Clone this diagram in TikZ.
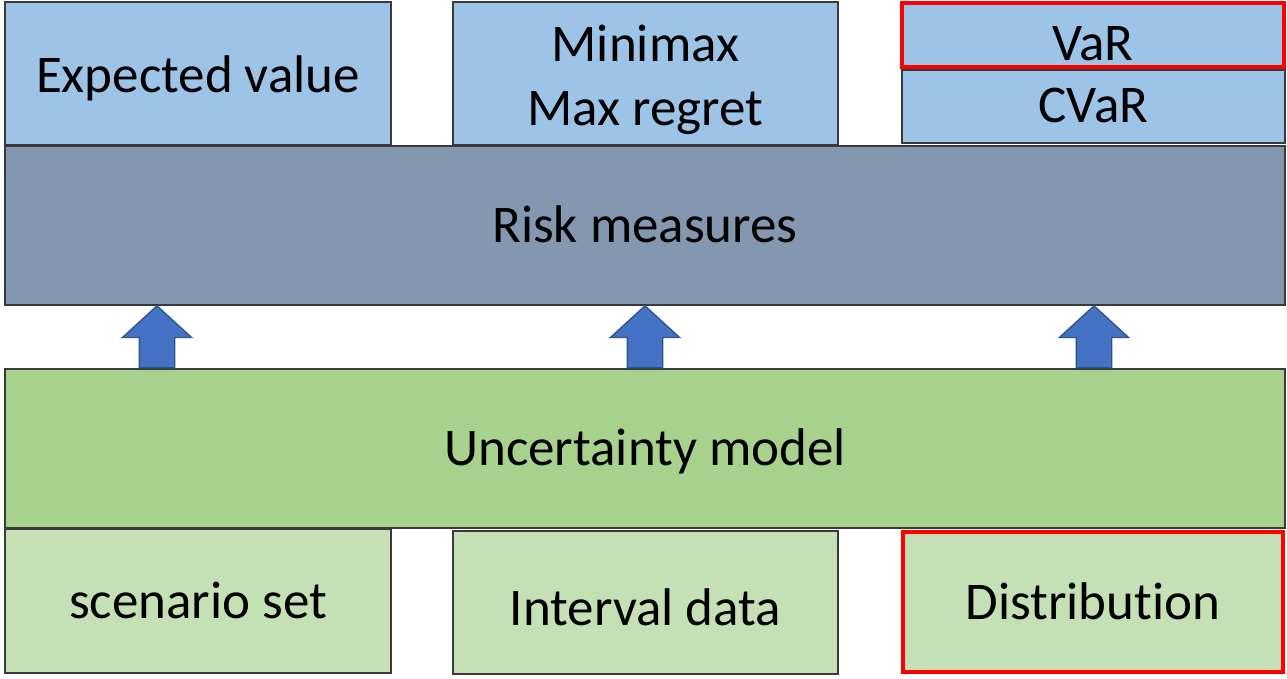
\documentclass[tikz,border=0pt]{standalone}
\usepackage{fontspec}
\setmainfont{Carlito}[Ligatures={NoCommon}]
\usetikzlibrary{shapes.arrows}
\definecolor{lblue}{HTML}{9DC3E6}
\definecolor{slate}{HTML}{8497B0}
\definecolor{mgreen}{HTML}{A9D18E}
\definecolor{lgreen}{HTML}{C5E0B4}
\definecolor{arrowfill}{HTML}{4472C4}
\definecolor{arrowline}{HTML}{2F528F}
\definecolor{edge}{HTML}{3A3A3A}
\definecolor{hl}{HTML}{FF0000}
\tikzset{
  box/.style={draw=edge, line width=1.1pt, inner sep=0pt, align=center,
    font=\fontsize{53}{64}\selectfont},
  oneline/.style={text height=34pt, text depth=0pt},
  measure/.style={box, fill=lblue},
  layerrisk/.style={box, oneline, fill=slate},
  layermodel/.style={box, oneline, fill=mgreen},
  source/.style={box, oneline, fill=lgreen},
  highlight/.style={draw=hl, line width=4pt},
  uparrow/.style={single arrow, rotate=90, anchor=tail, fill=arrowfill,
    draw=arrowline, line width=1.3pt, inner sep=17pt, minimum height=62pt,
    single arrow head extend=17pt, single arrow tip angle=95}
}
\begin{document}
\begin{tikzpicture}[x=1pt, y=-1pt]
\useasboundingbox (0,0) rectangle (1287,678);
% top row: risk measures
\node[measure, oneline, minimum width=386pt, minimum height=143pt] (ev) at (198,73.5)
  {\raisebox{-1.5pt}{Expected value}};
\node[measure, minimum width=385pt, minimum height=143pt] (mm) at (645.5,73.5)
  {\raisebox{-13.5pt}[0pt][0pt]{\begin{tabular}{@{}c@{}}Minimax\\Max regret\end{tabular}}};
\node[measure, oneline, minimum width=383pt, minimum height=73pt] (cvar) at (1093.5,106.5)
  {\raisebox{1.5pt}{CVaR}};
\node[measure, oneline, highlight, minimum width=382pt, minimum height=64pt] (var) at (1093,35)
  {\raisebox{-8pt}{VaR}};
% middle layers
\node[layerrisk, minimum width=1280pt, minimum height=159pt] (rm) at (645,225.5) {Risk measures};
\node[layermodel, minimum width=1280pt, minimum height=159pt] (um) at (645,448.5) {Uncertainty model};
% bottom row: uncertainty descriptions
\node[source, minimum width=386pt, minimum height=144pt] (ss) at (198,601) {scenario set};
\node[source, minimum width=385pt, minimum height=143pt] (id) at (645.5,602.5)
  {\raisebox{-5.5pt}{Interval data}};
\node[source, highlight, minimum width=380pt, minimum height=140pt] (di) at (1093,602) {Distribution};
% block arrows from the model layer up to the risk layer
\coordinate (c1) at (157,0);
\coordinate (c2) at (645,0);
\coordinate (c3) at (1094,0);
\node[uparrow] (a1) at (um.north -| c1) {};
\node[uparrow] (a2) at (um.north -| c2) {};
\node[uparrow] (a3) at (um.north -| c3) {};
\end{tikzpicture}
\end{document}
